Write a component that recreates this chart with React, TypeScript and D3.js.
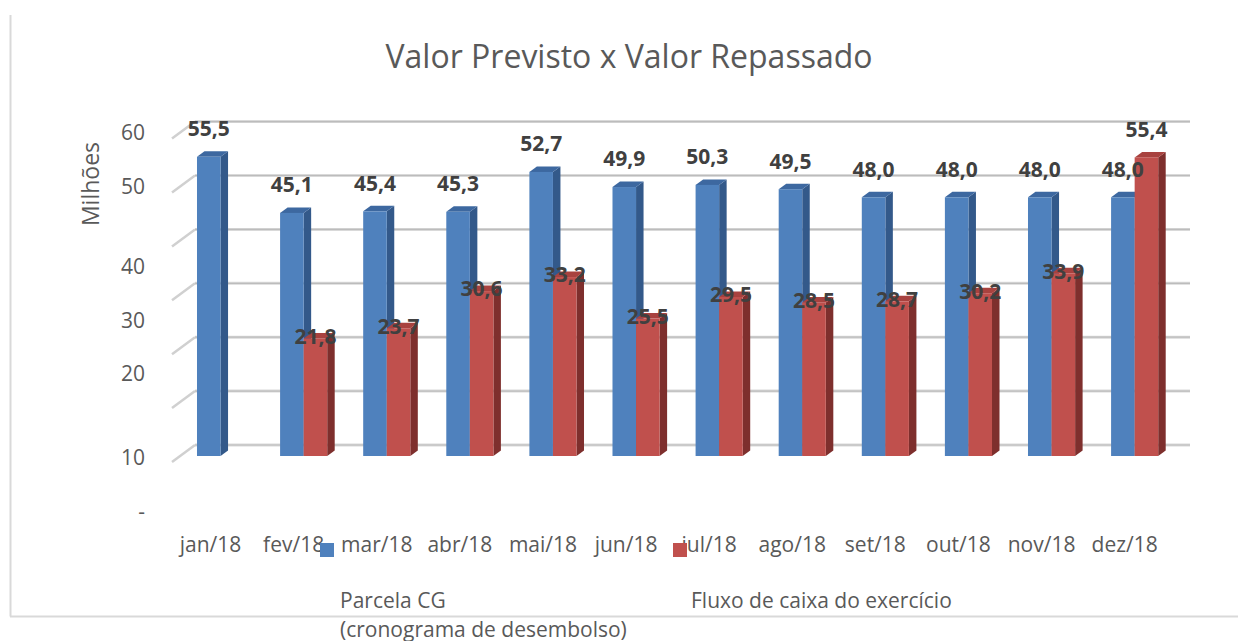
import React from "react";
import * as d3 from "d3";

const categories = ["jan/18","fev/18","mar/18","abr/18","mai/18","jun/18","jul/18","ago/18","set/18","out/18","nov/18","dez/18"];
const previsto: (number | null)[] = [55.5,45.1,45.4,45.3,52.7,49.9,50.3,49.5,48.0,48.0,48.0,48.0];
const repassado: (number | null)[] = [null,21.8,23.7,30.6,33.2,25.5,29.5,28.5,28.7,30.2,33.9,55.4];
const gridValues = [0,10,20,30,40,50,60];
const tickLabels = ["60","50","40","30","20","10","-"];
// Excel 3D rendering places the lower tick labels lower than their gridlines
const tickLabelValues = [60,50,35.2,25.2,15.2,-0.3,-10.3];
const seriesNames = ["Parcela CG", "Fluxo de caixa do exercício"];

const W = 1238, H = 641;
const FONT = "'Open Sans', sans-serif";
const DX = 7.5, DY = -5.5; // bar depth
const WALL_DX = 23, WALL_DY = -17; // side wall depth

const colors = [
  { front: "#4F81BD", side: "#33598A", top: "#3D68A0" },
  { front: "#C0504D", side: "#7E2F2D", top: "#A8423F" },
];

export default function App() {
  const x = d3.scaleBand<string>().domain(categories).range([179, 1176.2]).paddingInner(0.433).paddingOuter(0.2165);
  const y = d3.scaleLinear().domain([0, 60]).range([456, 132.6]);
  const bw = x.bandwidth() / 2;
  const wallLeft = 195, wallRight = 1190;
  const yBack = (v: number) => y(v) - 11;

  const bar = (xl: number, v: number, c: typeof colors[0], key: string) => {
    const yt = y(v), yb = y(0);
    return (
      <g key={key}>
        <polygon points={`${xl + bw},${yt} ${xl + bw + DX},${yt + DY} ${xl + bw + DX},${yb + DY} ${xl + bw},${yb}`} fill={c.side} />
        <polygon points={`${xl},${yt} ${xl + DX},${yt + DY} ${xl + bw + DX},${yt + DY} ${xl + bw},${yt}`} fill={c.top} />
        <rect x={xl} y={yt} width={bw} height={yb - yt} fill={c.front} />
      </g>
    );
  };

  return (
    <svg width={W} height={H} style={{ position: "absolute", left: 0, top: 0, background: "#fff" }} fontFamily={FONT}>
      {/* chart border */}
      <line x1={10.5} y1={15} x2={10.5} y2={616.5} stroke="#d9d9d9" strokeWidth={2} />
      <line x1={10} y1={616.5} x2={W} y2={616.5} stroke="#d9d9d9" strokeWidth={2} />

      <text x={629} y={57} dy="0.35em" textAnchor="middle" fontSize={32} fill="#595959">Valor Previsto x Valor Repassado</text>

      {/* gridlines */}
      {gridValues.map((v) => (
        <g key={v}>
          <line x1={wallLeft} y1={yBack(v)} x2={wallRight} y2={yBack(v)} stroke="#d9d9d9" strokeWidth={3} />
          <line x1={wallLeft} y1={yBack(v)} x2={wallRight} y2={yBack(v)} stroke="#bcbcbc" strokeWidth={1.2} />
          <line x1={wallLeft + (-WALL_DX)} y1={yBack(v) - WALL_DY} x2={wallLeft} y2={yBack(v)} stroke="#d0d0d0" strokeWidth={2.5} />
        </g>
      ))}

      {/* tick labels */}
      {tickLabels.map((t, i) => (
        <text key={t} x={145} y={y(tickLabelValues[i])} dy="0.35em" textAnchor="end" fontSize={21} fill="#595959">{t}</text>
      ))}
      <text transform={`translate(99,184) rotate(-90)`} textAnchor="middle" fontSize={23} fill="#595959">Milhões</text>

      {/* bars */}
      {categories.map((c, i) => {
        const x0 = x(c)!;
        return (
          <g key={c}>
            {previsto[i] != null && bar(x0, previsto[i]!, colors[0], "b")}
            {repassado[i] != null && bar(x0 + bw, repassado[i]!, colors[1], "r")}
          </g>
        );
      })}

      {/* data labels */}
      {categories.map((c, i) => {
        const x0 = x(c)!;
        const p = previsto[i], r = repassado[i];
        return (
          <g key={c} fontWeight="bold" fontSize={21} fill="#404040" textAnchor="middle">
            {p != null && <text x={x0 + bw / 2} y={y(p) - 28} dy="0.35em">{d3.format(".1f")(p).replace(".", ",")}</text>}
            {r != null && (
              <text x={x0 + bw * 1.5} y={r > (p ?? 0) ? y(r) - 28 : y(r) - 2} dy="0.35em">{d3.format(".1f")(r).replace(".", ",")}</text>
            )}
          </g>
        );
      })}

      {/* category labels */}
      {categories.map((c) => (
        <text key={c} x={x(c)! + bw - 10} y={545} dy="0.35em" textAnchor="middle" fontSize={21} fill="#595959">{c}</text>
      ))}

      {/* legend */}
      <rect x={320} y={543} width={14} height={14} fill={colors[0].front} />
      <rect x={673} y={543} width={14} height={14} fill={colors[1].front} />
      <text x={340} y={601} dy="0.35em" fontSize={21} fill="#595959">{seriesNames[0]}</text>
      <text x={340} y={630} dy="0.35em" fontSize={21} fill="#595959">(cronograma de desembolso)</text>
      <text x={691} y={601} dy="0.35em" fontSize={21} fill="#595959">{seriesNames[1]}</text>
    </svg>
  );
}
